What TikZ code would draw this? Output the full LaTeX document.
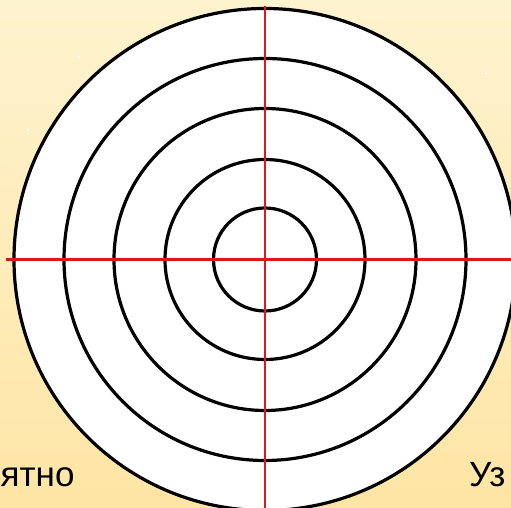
\documentclass[tikz,border=0pt]{standalone}
\usepackage{fontspec}
\setmainfont{Liberation Sans}
\definecolor{bgtop}{RGB}{254,243,207}
\definecolor{bgbot}{RGB}{254,229,165}
\definecolor{crossred}{RGB}{222,22,30}
\begin{document}
\begin{tikzpicture}[x=1pt,y=1pt,
  ring/.style={draw=black,line width=3.2pt},
  cross/.style={draw=crossred,line width=2.5pt},
  label/.style={font=\fontsize{35}{40}\selectfont,inner sep=0pt,text=black},
  speck/.style={fill=white}]
\useasboundingbox (0,0) rectangle (511,508);
\shade[top color=bgtop,bottom color=bgbot] (0,0) rectangle (511,508);
\clip (0,0) rectangle (511,508);
\fill[speck] (79,451) circle (1.5);
\fill[speck] (28,378) circle (1.5);
\fill[speck] (486,434) circle (1.5);
\coordinate (c) at (265,248.5);
\fill[white] (c) circle (251);
\foreach \r in {51.5,100,151,201,251} \draw[ring] (c) circle (\r);
\coordinate (hl) at (6,248.5);
\coordinate (hr) at (511,248.5);
\coordinate (vt) at (265,502);
\coordinate (vb) at (265,0);
\draw[cross] (hl) -- (hr);
\draw[cross] (vt) -- (vb);
\node[label,anchor=base west] (left) at (0.5,21) {ятно};
\node[label,anchor=base west] (right) at (469,21) {Уз};
\end{tikzpicture}
\end{document}
